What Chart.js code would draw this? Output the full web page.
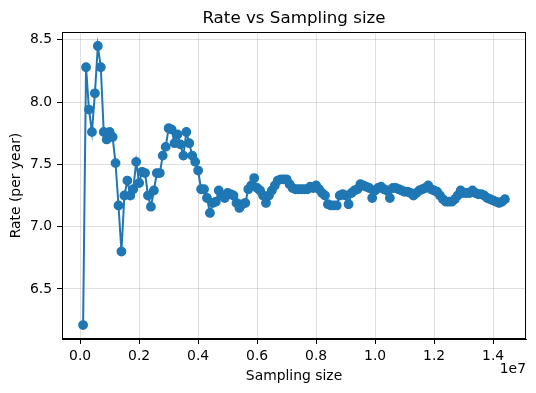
<!DOCTYPE html>
<html>
<head>
<meta charset="utf-8">
<script src="https://cdn.jsdelivr.net/npm/chart.js@4.4.1/dist/chart.umd.min.js"></script>
<style>
  html, body { margin: 0; padding: 0; background: #fff; }
  canvas { display: block; }
</style>
</head>
<body>
<canvas id="myChart" width="536" height="393"></canvas>
<script>
const sampleSizes = [
  100000, 200000, 300000, 400000, 500000, 600000, 700000, 800000, 900000, 1000000,
  1100000, 1200000, 1300000, 1400000, 1500000, 1600000, 1700000, 1800000, 1900000, 2000000,
  2100000, 2200000, 2300000, 2400000, 2500000, 2600000, 2700000, 2800000, 2900000, 3000000,
  3100000, 3200000, 3300000, 3400000, 3500000, 3600000, 3700000, 3800000, 3900000, 4000000,
  4100000, 4200000, 4300000, 4400000, 4500000, 4600000, 4700000, 4800000, 4900000, 5000000,
  5100000, 5200000, 5300000, 5400000, 5500000, 5600000, 5700000, 5800000, 5900000, 6000000,
  6100000, 6200000, 6300000, 6400000, 6500000, 6600000, 6700000, 6800000, 6900000, 7000000,
  7100000, 7200000, 7300000, 7400000, 7500000, 7600000, 7700000, 7800000, 7900000, 8000000,
  8100000, 8200000, 8300000, 8400000, 8500000, 8600000, 8700000, 8800000, 8900000, 9000000,
  9100000, 9200000, 9300000, 9400000, 9500000, 9600000, 9700000, 9800000, 9900000, 10000000,
  10100000, 10200000, 10300000, 10400000, 10500000, 10600000, 10700000, 10800000, 10900000, 11000000,
  11100000, 11200000, 11300000, 11400000, 11500000, 11600000, 11700000, 11800000, 11900000, 12000000,
  12100000, 12200000, 12300000, 12400000, 12500000, 12600000, 12700000, 12800000, 12900000, 13000000,
  13100000, 13200000, 13300000, 13400000, 13500000, 13600000, 13700000, 13800000, 13900000, 14000000,
  14100000, 14200000, 14300000, 14400000
];

const rates = [
  6.21, 8.28, 7.94, 7.76, 8.07, 8.45, 8.28, 7.76, 7.70, 7.76,
  7.72, 7.51, 7.17, 6.80, 7.25, 7.37, 7.25, 7.30, 7.52, 7.35,
  7.44, 7.43, 7.25, 7.16, 7.29, 7.43, 7.43, 7.57, 7.64, 7.79,
  7.78, 7.67, 7.74, 7.66, 7.57, 7.76, 7.67, 7.57, 7.52, 7.45,
  7.30, 7.30, 7.23, 7.11, 7.19, 7.20, 7.29, 7.25, 7.23, 7.27,
  7.26, 7.25, 7.19, 7.15, 7.18, 7.19, 7.30, 7.33, 7.39, 7.31,
  7.29, 7.25, 7.19, 7.25, 7.29, 7.33, 7.37, 7.38, 7.38, 7.38,
  7.34, 7.31, 7.30, 7.30, 7.30, 7.30, 7.30, 7.32, 7.31, 7.33,
  7.30, 7.27, 7.25, 7.18, 7.17, 7.17, 7.17, 7.25, 7.26, 7.25,
  7.18, 7.27, 7.29, 7.30, 7.34, 7.33, 7.32, 7.31, 7.23, 7.29,
  7.31, 7.32, 7.30, 7.29, 7.23, 7.31, 7.31, 7.30, 7.29, 7.28,
  7.28, 7.27, 7.25, 7.27, 7.29, 7.30, 7.31, 7.33, 7.30, 7.29,
  7.28, 7.25, 7.22, 7.20, 7.20, 7.20, 7.22, 7.25, 7.29, 7.27,
  7.27, 7.27, 7.29, 7.27, 7.26, 7.26, 7.25, 7.23, 7.22, 7.21,
  7.20, 7.19, 7.20, 7.22
];

const xTickValues = [0, 2000000, 4000000, 6000000, 8000000, 10000000, 12000000, 14000000];
const xTickLabels = ['0.0', '0.2', '0.4', '0.6', '0.8', '1.0', '1.2', '1.4'];
const yTickValues = [6.5, 7.0, 7.5, 8.0, 8.5];
const yTickLabels = ['6.5', '7.0', '7.5', '8.0', '8.5'];

const blue = '#1f77b4';
const font = 'DejaVu Sans';

Chart.defaults.font.family = font;
Chart.defaults.color = '#000';

// matplotlib draws a box on all four sides, and the "1e7" offset label
const frame = {
  id: 'frame',
  afterDraw(chart) {
    const {ctx, chartArea: a} = chart;
    ctx.save();
    ctx.strokeStyle = '#000';
    ctx.lineWidth = 1;
    ctx.strokeRect(Math.round(a.left) + 0.5, Math.round(a.top) + 0.5,
      Math.round(a.right - a.left) - 1, Math.round(a.bottom - a.top) - 1);
    ctx.font = `13.9px "${font}"`;
    ctx.fillStyle = '#000';
    ctx.textAlign = 'right';
    ctx.textBaseline = 'alphabetic';
    ctx.fillText('1e7', a.right, 373);
    ctx.restore();
  }
};

const ctx = document.getElementById('myChart').getContext('2d');
const chart = new Chart(ctx, {
  type: 'line',
  data: {
    datasets: [{
      data: sampleSizes.map((s, i) => ({x: s, y: rates[i]})),
      borderColor: blue,
      backgroundColor: blue,
      borderWidth: 2,
      pointRadius: 4.2,
      pointBorderWidth: 1.4,
      pointBorderColor: blue,
      pointBackgroundColor: blue,
      tension: 0,
    }]
  },
  options: {
    responsive: false,
    animation: false,
    devicePixelRatio: 1,
    layout: { padding: { left: 0, right: 10, top: 0, bottom: 0 } },
    plugins: {
      legend: { display: false },
      tooltip: { enabled: false },
      title: {
        display: true,
        text: 'Rate vs Sampling size',
        fullSize: false,
        color: '#000',
        font: { size: 16.7, weight: 'normal' },
        padding: { top: 9, bottom: 3 },
      },
    },
    scales: {
      x: {
        type: 'linear',
        min: -615000,
        max: 15115000,
        afterFit: (scale) => { scale.height = 54; },
        afterBuildTicks: (scale) => { scale.ticks = xTickValues.map(v => ({value: v})); },
        ticks: {
          callback: (v, i) => xTickLabels[i],
          font: { size: 13.9 },
          padding: 4,
          maxRotation: 0,
          autoSkip: false,
        },
        grid: {
          color: 'rgba(176,176,176,0.5)',
          lineWidth: 0.8,
          tickColor: '#000',
          tickLength: 5,
          tickWidth: 1,
        },
        border: { color: '#000', width: 1 },
        title: {
          display: true,
          text: 'Sampling size',
          font: { size: 13.9 },
          padding: { top: 0, bottom: 8.5 },
        },
      },
      y: {
        type: 'linear',
        min: 6.098,
        max: 8.562,
        afterFit: (scale) => { scale.width = 62; },
        afterBuildTicks: (scale) => { scale.ticks = yTickValues.map(v => ({value: v})); },
        ticks: {
          callback: (v, i) => yTickLabels[i],
          font: { size: 13.9 },
          padding: 5,
          autoSkip: false,
        },
        grid: {
          color: 'rgba(176,176,176,0.5)',
          lineWidth: 0.8,
          tickColor: '#000',
          tickLength: 5,
          tickWidth: 1,
        },
        border: { color: '#000', width: 1 },
        title: {
          display: true,
          text: 'Rate (per year)',
          font: { size: 13.9 },
          padding: { top: 8, bottom: 0 },
        },
      },
    },
  },
  plugins: [frame],
});
</script>
</body>
</html>
